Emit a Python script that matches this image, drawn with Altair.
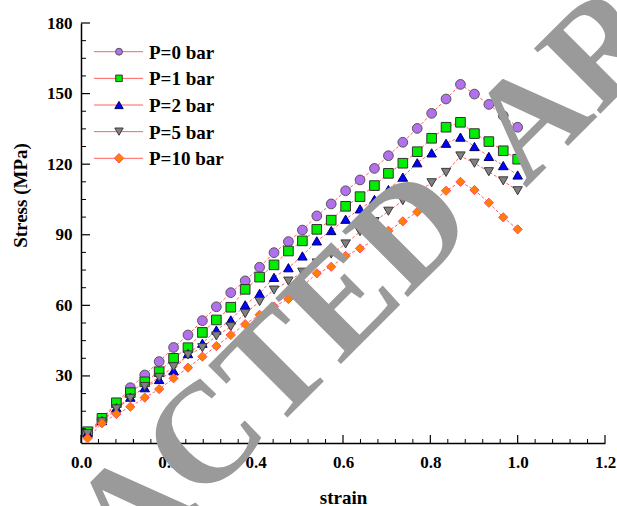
import altair as alt
import pandas as pd

# ---------------- data ----------------
strain = [0.015, 0.048, 0.081, 0.113, 0.146, 0.179, 0.212, 0.245, 0.278, 0.310,
          0.343, 0.376, 0.409, 0.442, 0.475, 0.507, 0.540, 0.573, 0.606, 0.639,
          0.672, 0.704, 0.737, 0.770, 0.803, 0.836, 0.869, 0.901, 0.934, 0.967, 1.000]
p0 = [6.0, 11.5, 18.0, 25.0, 30.4, 36.1, 42.1, 47.4, 53.5, 59.4, 65.4, 70.4, 76.2, 82.4, 87.1, 92.0,
      98.0, 103.1, 108.7, 113.3, 118.2, 123.6, 129.3, 135.2, 141.6, 147.7, 153.9, 149.8, 145.4, 140.6, 135.7]
p1 = [6.3, 12.0, 18.6, 22.9, 27.5, 31.8, 37.5, 42.0, 48.5, 53.8, 59.2, 66.8, 72.0, 77.2, 83.1, 87.4,
      92.3, 96.2, 102.1, 106.2, 110.9, 116.1, 120.4, 125.3, 131.0, 135.7, 137.8, 133.0, 129.6, 125.7, 122.1]
p2 = [5.7, 11.0, 16.5, 21.0, 25.0, 28.5, 32.2, 39.5, 43.9, 49.5, 53.8, 60.2, 65.1, 71.9, 76.0, 81.0,
      87.4, 91.8, 96.6, 101.0, 105.0, 109.2, 114.5, 120.6, 124.8, 128.9, 131.5, 127.5, 123.3, 119.4, 115.4]
p5 = [5.5, 10.5, 16.0, 20.5, 25.5, 29.4, 33.9, 38.9, 42.0, 47.0, 50.9, 56.5, 61.6, 66.5, 70.3, 74.1,
      78.0, 81.8, 86.1, 91.3, 95.6, 100.0, 104.5, 108.0, 112.1, 116.5, 123.5, 120.4, 116.8, 112.9, 108.7]
p10 = [3.5, 9.9, 13.8, 16.9, 20.8, 24.4, 29.0, 33.5, 38.2, 42.7, 47.4, 52.0, 56.0, 59.5, 62.7, 68.0,
       73.6, 76.4, 81.0, 84.2, 87.8, 91.7, 95.7, 99.7, 103.6, 108.7, 112.5, 109.0, 103.6, 97.4, 92.3]
series_names = ["P=0 bar", "P=1 bar", "P=2 bar", "P=5 bar", "P=10 bar"]
series_values = [p0, p1, p2, p5, p10]

x_major = [0.0, 0.2, 0.4, 0.6, 0.8, 1.0, 1.2]
x_minor = [0.04, 0.08, 0.12, 0.16, 0.24, 0.28, 0.32, 0.36, 0.44, 0.48, 0.52, 0.56,
           0.64, 0.68, 0.72, 0.76, 0.84, 0.88, 0.92, 0.96, 1.04, 1.08, 1.12, 1.16]
y_major = [30, 60, 90, 120, 150, 180]
y_minor = [7.5, 15, 22.5, 37.5, 45, 52.5, 67.5, 75, 82.5, 97.5, 105, 112.5,
           127.5, 135, 142.5, 157.5, 165, 172.5]

watermark_words = ["RETRACTED", "ARTICLE"]

# ---------------- styles ----------------
fills = ["#B26FEE", "#00EE00", "#0000FF", "#808080", "#FF7F00"]
strokes = ["#555555", "#333333", "#000066", "#3A3A3A", "#FF4D6A"]
shapes = ["circle", "square", "triangle-up", "triangle-down", "M0,-1L1,0L0,1L-1,0Z"]
sizes = [95, 85, 140, 140, 180]
line_color = "#FF6060"
FONT = "Liberation Serif"
W, H = 524, 420
wm_pos = [(52, 488), (641, -92)]   # centre of each watermark word (plot-area pixels)

rows = []
for name, vals in zip(series_names, series_values):
    for s, v in zip(strain, vals):
        rows.append({"series": name, "strain": s, "stress": v})
df = pd.DataFrame(rows)

xscale = alt.Scale(domain=[0, 1.2], nice=False, zero=False)
yscale = alt.Scale(domain=[1.5, 180], nice=False, zero=False)

xaxis = alt.Axis(values=x_major, format=".1f", grid=False, ticks=False, labelFlush=False,
                 domainColor="black", domainWidth=1.5,
                 labelFont=FONT, labelFontSize=17, labelFontWeight="bold", labelColor="black",
                 labelPadding=11, labelBaseline="top",
                 title="strain", titleFont=FONT, titleFontSize=19, titleFontWeight="bold",
                 titleColor="black", titleX=W / 2, titleY=60, titleBaseline="alphabetic",
                 titleAnchor="middle")
yaxis = alt.Axis(values=y_major, format="d", grid=False, ticks=False, labelFlush=False,
                 domainColor="black", domainWidth=1.5,
                 labelFont=FONT, labelFontSize=17, labelFontWeight="bold", labelColor="black",
                 labelPadding=9,
                 title="Stress (MPa)", titleFont=FONT, titleFontSize=19, titleFontWeight="bold",
                 titleColor="black", titleAngle=270, titleX=-61, titleY=172,
                 titleBaseline="middle", titleAlign="center")

enc_x = alt.X("strain:Q", scale=xscale, axis=xaxis)
enc_y = alt.Y("stress:Q", scale=yscale, axis=yaxis)

lines = alt.Chart(df).mark_line(strokeDash=[3, 2], strokeWidth=1, color=line_color).encode(
    x=enc_x, y=enc_y, detail="series:N", order="strain:Q")

points = alt.Chart(df).mark_point(filled=True, fillOpacity=1, opacity=1, strokeWidth=1).encode(
    x=enc_x, y=enc_y,
    fill=alt.Fill("series:N", scale=alt.Scale(domain=series_names, range=fills), legend=None),
    stroke=alt.Stroke("series:N", scale=alt.Scale(domain=series_names, range=strokes), legend=None),
    shape=alt.Shape("series:N", scale=alt.Scale(domain=series_names, range=shapes), legend=None),
    size=alt.Size("series:N", scale=alt.Scale(domain=series_names, range=sizes), legend=None),
)

# inward ticks
xt_major = alt.Chart(pd.DataFrame({"strain": x_major})).mark_rule(color="black", strokeWidth=1.2).encode(
    x=enc_x, y=alt.value(H), y2=alt.value(H - 8))
xt_minor = alt.Chart(pd.DataFrame({"strain": x_minor})).mark_rule(color="black", strokeWidth=1).encode(
    x=enc_x, y=alt.value(H), y2=alt.value(H - 4))
yt_major = alt.Chart(pd.DataFrame({"stress": y_major})).mark_rule(color="black", strokeWidth=1.2).encode(
    y=enc_y, x=alt.value(0), x2=alt.value(9))
yt_minor = alt.Chart(pd.DataFrame({"stress": y_minor})).mark_rule(color="black", strokeWidth=1).encode(
    y=enc_y, x=alt.value(0), x2=alt.value(5))

# legend (manual, to show line through marker)
one = pd.DataFrame({"k": [0]})
legend_layers = []
for i, name in enumerate(series_names):
    yy = 28.7 + i * 26.65
    legend_layers.append(alt.Chart(one).mark_rule(color=line_color, strokeWidth=1).encode(
        x=alt.value(13), x2=alt.value(62), y=alt.value(yy)))
    legend_layers.append(alt.Chart(one).mark_point(
        filled=True, fillOpacity=1, opacity=1, strokeWidth=1, shape=shapes[i],
        fill=fills[i], stroke=strokes[i], size=sizes[i] * 0.5).encode(
        x=alt.value(38), y=alt.value(yy)))
    legend_layers.append(alt.Chart(one).mark_text(
        text=name, font=FONT, fontSize=19, fontWeight="bold", color="black",
        align="left", baseline="middle").encode(x=alt.value(68), y=alt.value(yy + 1)))

wm_layers = []
for word, (wx, wy) in zip(watermark_words, wm_pos):
    wm_layers.append(alt.Chart(one).mark_text(
        text=word, font=FONT, fontSize=142, fontWeight="bold", color="#9A9A9A", angle=315,
        align="center", baseline="middle").encode(x=alt.value(wx), y=alt.value(wy)))

chart = alt.layer(lines, points, xt_major, xt_minor, yt_major, yt_minor,
                  *legend_layers, *wm_layers).properties(
    width=W, height=H,
    autosize=alt.AutoSizeParams(type="none"),
    padding={"left": 81, "top": 23, "right": 12, "bottom": 63},
    background="white",
).configure_view(stroke=None)

chart.save("out.html", embed_options={"renderer": "svg", "actions": False})
